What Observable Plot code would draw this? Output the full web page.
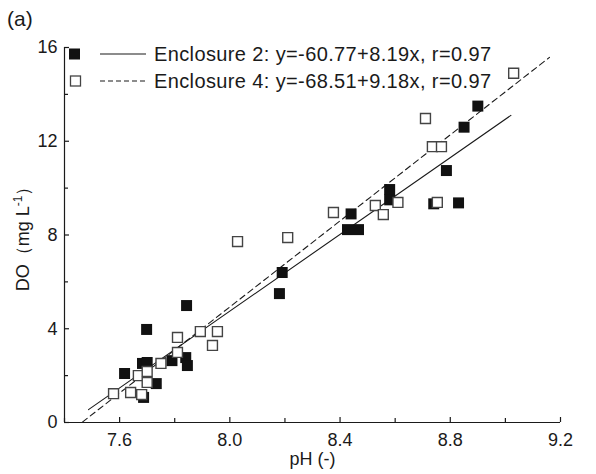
<!DOCTYPE html>
<html><head><meta charset="utf-8">
<script src="https://cdn.jsdelivr.net/npm/d3@7"></script>
<script src="https://cdn.jsdelivr.net/npm/@observablehq/plot@0.6"></script>
<style>body{margin:0;background:#fff;} #chart{width:596px;height:474px;}</style>
</head><body><div id="chart"></div>
<script>
// Enclosure 2 (filled squares)
const enc2PH = [7.618, 7.683, 7.70, 7.698, 7.733, 7.687, 7.79, 7.84, 7.846, 7.843, 8.18, 8.19, 8.427, 8.467, 8.44, 8.58, 8.58, 8.74, 8.83, 8.786, 8.85, 8.90];
const enc2DO = [2.09, 2.52, 2.56, 3.97, 1.66, 1.07, 2.64, 2.77, 2.43, 4.99, 5.5, 6.4, 8.23, 8.23, 8.9, 9.94, 9.5, 9.33, 9.37, 10.75, 12.6, 13.5];
// Enclosure 4 (open squares)
const enc4PH = [7.578, 7.64, 7.68, 7.668, 7.70, 7.70, 7.75, 7.81, 7.81, 7.893, 7.955, 7.937, 8.028, 8.21, 8.376, 8.528, 8.557, 8.61, 8.753, 8.71, 8.735, 8.768, 9.03];
const enc4DO = [1.23, 1.28, 1.19, 2.0, 2.18, 1.71, 2.52, 2.99, 3.63, 3.88, 3.88, 3.29, 7.72, 7.89, 8.96, 9.26, 8.87, 9.39, 9.39, 12.97, 11.77, 11.77, 14.9];
// Regression fits
const fitNames = ["Enclosure 2", "Enclosure 4"];
const fitIntercepts = [-60.77, -68.51];
const fitSlopes = [8.19, 9.18];
const fitStartPH = [7.487, 7.465];
const fitEndPH = [9.02, 9.16];
const legendLabels = ["Enclosure 2: y=-60.77+8.19x, r=0.97", "Enclosure 4: y=-68.51+9.18x, r=0.97"];
// Axis ticks
const xTicks = [7.6, 8.0, 8.4, 8.8, 9.2];
const xMinor = [7.4, 7.8, 8.2, 8.6, 9.0];
const yTicks = [0, 4, 8, 12, 16];
const yMinor = [2, 6, 10, 14];

const enc2 = enc2PH.map((x, i) => ({x, y: enc2DO[i]}));
const enc4 = enc4PH.map((x, i) => ({x, y: enc4DO[i]}));
const fitLines = fitNames.map((name, i) => [fitStartPH[i], fitEndPH[i]].map(x => ({name, x, y: fitIntercepts[i] + fitSlopes[i] * x})));

const W = 596, H = 474, mL = 64, mR = 36, mT = 47, mB = 52;
const fw = W - mL - mR, fh = H - mT - mB;
const ink = "#1a1a1a";
const font = "'Liberation Sans', Arial, sans-serif";

const plot = Plot.plot({
  width: W, height: H,
  marginLeft: mL, marginRight: mR, marginTop: mT, marginBottom: mB,
  style: {fontFamily: font, fontSize: "18px", color: ink, background: "#fff", overflow: "visible"},
  x: {domain: [7.4, 9.2], label: null},
  y: {domain: [0, 16], label: null},
  marks: [
    Plot.axisX(xTicks, {tickSize: 0, tickPadding: 11, tickFormat: d => d.toFixed(1), label: null, fill: ink, fontSize: 18}),
    Plot.axisY(yTicks, {tickSize: 0, tickPadding: 7, tickFormat: d => String(d), label: null, fill: ink, fontSize: 18}),
    Plot.tickX(xTicks, {x: d => d, insetTop: fh - 5, stroke: ink, strokeWidth: 1.2}),
    Plot.tickX(xMinor, {x: d => d, insetTop: fh - 4, stroke: ink, strokeWidth: 1.2}),
    Plot.tickY(yTicks, {y: d => d, insetRight: fw - 5, stroke: ink, strokeWidth: 1.2}),
    Plot.tickY(yMinor, {y: d => d, insetRight: fw - 4, stroke: ink, strokeWidth: 1.2}),
    Plot.ruleY([0], {stroke: ink, strokeWidth: 1.2}),
    Plot.ruleX([7.4], {stroke: ink, strokeWidth: 1.2}),
    Plot.line(fitLines[0], {x: "x", y: "y", stroke: ink, strokeWidth: 1.1}),
    Plot.line(fitLines[1], {x: "x", y: "y", stroke: ink, strokeWidth: 1.1, strokeDasharray: "6,4"}),
    Plot.dot(enc2, {x: "x", y: "y", symbol: "square", r: 6.2, fill: "#111", stroke: "none"}),
    Plot.dot(enc4, {x: "x", y: "y", symbol: "square", r: 5.6, fill: "#fff", stroke: "#444", strokeWidth: 1.4}),
    Plot.text(["pH (-)"], {frameAnchor: "bottom", dy: 42, fontSize: 18, fill: ink})
  ]
});
document.getElementById("chart").appendChild(plot);

const svg = d3.select(plot);
// panel label
svg.append("text").attr("x", 7).attr("y", 26).attr("text-anchor", "start").attr("font-family", font).attr("font-size", 21).attr("fill", ink).text("(a)");
// y axis label
const yl = svg.append("text").attr("transform", `translate(29,${mT + fh / 2}) rotate(-90)`)
  .attr("text-anchor", "middle").attr("font-family", font).attr("font-size", 18).attr("fill", ink);
yl.append("tspan").text("DO\uFF08mg L");
yl.append("tspan").attr("font-size", 12).attr("dy", -7).text("-1");
yl.append("tspan").attr("dy", 7).text("\uFF09");
// legend
const rowsY = [54, 81];
legendLabels.forEach((lab, i) => {
  const g = svg.append("g");
  const y = rowsY[i];
  if (i === 0) g.append("rect").attr("x", 69).attr("y", y - 5.5).attr("width", 11).attr("height", 11).attr("fill", "#111");
  else g.append("rect").attr("x", 70.5).attr("y", y - 5).attr("width", 10).attr("height", 10).attr("fill", "#fff").attr("stroke", "#444").attr("stroke-width", 1.3);
  g.append("line").attr("x1", 100).attr("x2", 146).attr("y1", y).attr("y2", y).attr("stroke", ink).attr("stroke-width", 1.1)
    .attr("stroke-dasharray", i === 0 ? null : "5,3");
  g.append("text").attr("x", 154).attr("y", y).attr("dy", "0.36em").attr("text-anchor", "start")
    .attr("font-family", font).attr("font-size", 20).attr("textLength", 337).attr("lengthAdjust", "spacing")
    .attr("fill", ink).text(lab);
});
</script>
</body></html>
